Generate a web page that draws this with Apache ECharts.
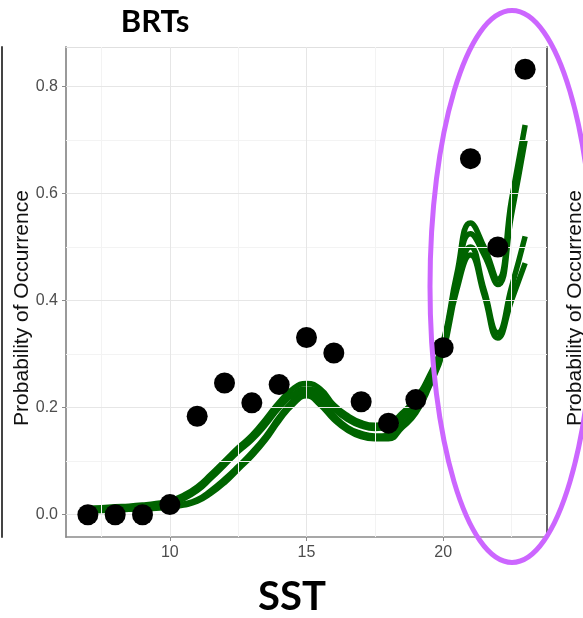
<!DOCTYPE html>
<html>
<head>
<meta charset="utf-8">
<script src="https://cdn.jsdelivr.net/npm/echarts@6/dist/echarts.min.js"></script>
<style>
html,body{margin:0;padding:0;background:#fff;}
#chart{width:583px;height:618px;}
</style>
</head>
<body>
<div id="chart"></div>
<script>
// Observed occurrence (black dots)
const sstObs = [7, 8, 9, 10, 11, 12, 13, 14, 15, 16, 17, 18, 19, 20, 21, 22, 23];
const probObs = [0.0, 0.0, 0.0, 0.019, 0.184, 0.246, 0.209, 0.243, 0.331, 0.302, 0.211, 0.171, 0.215, 0.312, 0.665, 0.500, 0.832];

// BRT fitted curves (green lines)
const sstFit = [7, 7.5, 8, 8.5, 9, 9.5, 10, 10.5, 11, 11.5, 12, 12.5, 13, 13.5, 14, 14.5, 15, 15.5, 16, 16.5, 17, 17.5, 18, 18.5, 19, 19.5, 20, 20.5, 21, 21.5, 22, 22.5, 23];
const fitA = [0.012, 0.013, 0.015, 0.016, 0.018, 0.021, 0.026, 0.036, 0.052, 0.075, 0.100, 0.125, 0.148, 0.178, 0.210, 0.235, 0.245, 0.235, 0.205, 0.185, 0.172, 0.167, 0.170, 0.190, 0.217, 0.260, 0.322, 0.450, 0.545, 0.500, 0.440, 0.588, 0.728];
const fitB = [0.010, 0.011, 0.013, 0.014, 0.016, 0.019, 0.022, 0.030, 0.045, 0.068, 0.093, 0.118, 0.140, 0.168, 0.200, 0.224, 0.235, 0.225, 0.198, 0.178, 0.166, 0.161, 0.164, 0.180, 0.207, 0.252, 0.316, 0.440, 0.525, 0.485, 0.430, 0.560, 0.700];
const fitC = [0.008, 0.009, 0.010, 0.011, 0.012, 0.014, 0.016, 0.020, 0.028, 0.045, 0.066, 0.090, 0.116, 0.146, 0.182, 0.212, 0.230, 0.215, 0.185, 0.163, 0.152, 0.147, 0.148, 0.168, 0.195, 0.245, 0.312, 0.430, 0.500, 0.420, 0.340, 0.425, 0.520];
const fitD = [0.007, 0.008, 0.009, 0.010, 0.011, 0.012, 0.014, 0.018, 0.025, 0.040, 0.060, 0.085, 0.110, 0.140, 0.176, 0.206, 0.222, 0.205, 0.178, 0.158, 0.146, 0.142, 0.142, 0.163, 0.190, 0.240, 0.305, 0.420, 0.485, 0.410, 0.330, 0.400, 0.470];

// Axis ticks and grid lines
const xTicks = [10, 15, 20];
const xMinor = [7.5, 12.5, 17.5, 22.5];
const yTicks = [0, 0.2, 0.4, 0.6, 0.8];
const yMinor = [0.1, 0.3, 0.5, 0.7];

const titleText = 'BRTs';
const xTitle = 'SST';
const yTitle = 'Probability of Occurrence';

const chart = echarts.init(document.getElementById('chart'), null, {renderer: 'canvas'});

const toPairs = (xs, ys) => xs.map((x, i) => [x, ys[i]]);
const fitColor = '#006400';

const fitSeries = [fitA, fitB, fitC, fitD].map((ys, i) => ({
  type: 'line',
  name: 'fit' + i,
  data: toPairs(sstFit, ys),
  smooth: 0.5,
  showSymbol: false,
  symbol: 'none',
  z: 3,
  lineStyle: {color: fitColor, width: 5.5},
  silent: true
}));

const option = {
  animation: false,
  backgroundColor: '#fff',
  grid: {left: 66, right: 36, top: 47, bottom: 81, containLabel: false, outerBoundsMode: 'none'},
  xAxis: [
    {
      type: 'value', min: 6.2, max: 23.8,
      axisLine: {show: true, onZero: false, lineStyle: {color: '#8a8a8a', width: 1.5}},
      axisTick: {show: true, length: 4, customValues: xTicks, lineStyle: {color: '#8a8a8a'}},
      axisLabel: {customValues: xTicks, color: '#4d4d4d', fontSize: 16, fontFamily: 'Liberation Sans, Arial', margin: 8},
      splitLine: {show: false}
    },
    {
      type: 'value', min: 6.2, max: 23.8, position: 'top',
      axisLine: {show: true, onZero: false, lineStyle: {color: '#e0e0e0', width: 1}},
      axisTick: {show: false}, axisLabel: {show: false}, splitLine: {show: false}
    }
  ],
  yAxis: [
    {
      type: 'value', min: -0.0416, max: 0.8736,
      axisLine: {show: true, onZero: false, lineStyle: {color: '#9a9a9a', width: 2}},
      axisTick: {show: true, length: 4, customValues: yTicks, lineStyle: {color: '#8a8a8a'}},
      axisLabel: {customValues: yTicks, color: '#4d4d4d', fontSize: 16, fontFamily: 'Liberation Sans, Arial', margin: 8,
        formatter: v => v.toFixed(1)},
      splitLine: {show: false}
    },
    {
      type: 'value', min: -0.0416, max: 0.8736, position: 'right',
      axisLine: {show: true, onZero: false, lineStyle: {color: '#333', width: 1.5}},
      axisTick: {show: false}, axisLabel: {show: false}, splitLine: {show: false}
    },
    {
      type: 'value', min: -0.0416, max: 0.8736, position: 'left', offset: 64,
      axisLine: {show: true, onZero: false, lineStyle: {color: '#444', width: 2}},
      axisTick: {show: false}, axisLabel: {show: false}, splitLine: {show: false}
    }
  ],
  series: [
    {
      type: 'scatter', data: [], z: 1, silent: true,
      markLine: {
        silent: true, symbol: 'none', label: {show: false}, animation: false,
        lineStyle: {color: '#f3f3f3', width: 1, type: 'solid'},
        data: xMinor.map(v => ({xAxis: v})).concat(yMinor.map(v => ({yAxis: v})))
      }
    },
    {
      type: 'scatter', data: [], z: 1, silent: true,
      markLine: {
        silent: true, symbol: 'none', label: {show: false}, animation: false,
        lineStyle: {color: '#e6e6e6', width: 1, type: 'solid'},
        data: xTicks.map(v => ({xAxis: v})).concat(yTicks.map(v => ({yAxis: v})))
      }
    },
    ...fitSeries,
    {
      type: 'scatter',
      data: toPairs(sstObs, probObs),
      symbol: 'circle',
      symbolSize: 21,
      z: 5,
      itemStyle: {color: '#000', opacity: 1},
      silent: true
    }
  ],
  graphic: [
    {type: 'text', x: 155, y: 22, z: 10,
      style: {text: titleText, fill: '#000', font: 'bold 31px Lato, "Open Sans", sans-serif', align: 'center', verticalAlign: 'middle'}},
    {type: 'text', x: 292, y: 597, z: 10,
      style: {text: xTitle, fill: '#000', font: 'bold 40px Lato, "Open Sans", sans-serif', align: 'center', verticalAlign: 'middle'}},
    {type: 'text', x: 22, y: 308, rotation: Math.PI / 2, z: 10,
      style: {text: yTitle, fill: '#111', font: '21px "Liberation Sans", Arial, sans-serif', align: 'center', verticalAlign: 'middle'}},
    {type: 'text', x: 575, y: 308, rotation: Math.PI / 2, z: 10,
      style: {text: yTitle, fill: '#111', font: '21px "Liberation Sans", Arial, sans-serif', align: 'center', verticalAlign: 'middle'}},
    {type: 'ellipse', z: 20, silent: true,
      shape: {cx: 512, cy: 286.5, rx: 82, ry: 276},
      style: {fill: 'none', stroke: '#cc66ff', lineWidth: 5}}
  ]
};

chart.setOption(option);
</script>
</body>
</html>
